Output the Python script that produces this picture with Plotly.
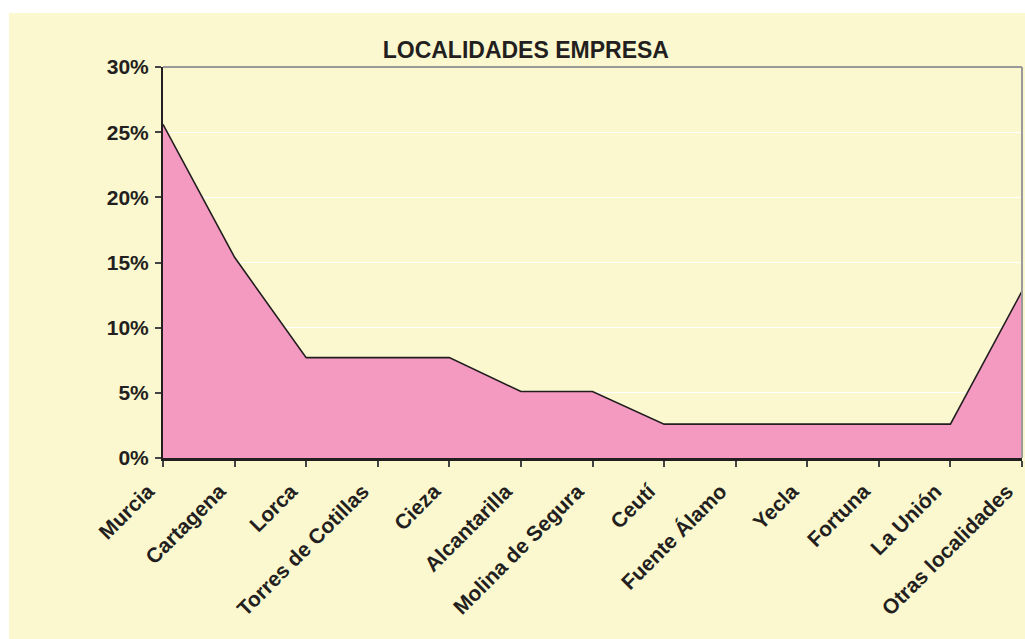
import plotly.graph_objects as go

# Localidades de la empresa (share of companies per town)
localidades = [
    "Murcia", "Cartagena", "Lorca", "Torres de Cotillas", "Cieza",
    "Alcantarilla", "Molina de Segura", "Ceutí", "Fuente Álamo", "Yecla",
    "Fortuna", "La Unión", "Otras localidades",
]
porcentajes = [0.256, 0.154, 0.077, 0.077, 0.077, 0.051, 0.051,
               0.026, 0.026, 0.026, 0.026, 0.026, 0.128]
y_ticks = [0, 0.05, 0.10, 0.15, 0.20, 0.25, 0.30]

PANEL = "#FBF8CF"
PINK = "#F49AC1"
DARK = "#231F20"
FONT = "Liberation Sans, Arial, sans-serif"

fig = go.Figure()
fig.add_trace(go.Scatter(
    x=list(range(len(localidades))),
    y=porcentajes,
    mode="lines",
    fill="tozeroy",
    fillcolor=PINK,
    line=dict(color=DARK, width=1.6),
    hoverinfo="skip",
    showlegend=False,
))

fig.update_layout(
    width=1025,
    height=639,
    margin=dict(l=163, r=3, t=67, b=181, autoexpand=False),
    paper_bgcolor="white",
    plot_bgcolor=PANEL,
    title=dict(
        text="LOCALIDADES EMPRESA",
        x=0.513, y=0.922, xref="container", yref="container",
        xanchor="center", yanchor="middle",
        font=dict(family=FONT, size=23, color=DARK, weight="bold"),
    ),
    font=dict(family=FONT, size=21, color=DARK, weight="bold"),
    xaxis=dict(
        range=[0, len(localidades) - 1],
        tickmode="array",
        tickvals=list(range(len(localidades))),
        ticktext=localidades,
        tickangle=-45,
        ticklabeloverflow="allow",
        ticklabelshift=-15,
        ticklabelstandoff=4,
        ticks="outside", ticklen=6, tickcolor="#444", tickwidth=1.5,
        showline=True, linecolor=DARK, linewidth=2.5,
        showgrid=False, zeroline=False,
        tickfont=dict(family=FONT, size=21, color=DARK, weight="bold"),
    ),
    yaxis=dict(
        range=[0, 0.30],
        tickvals=y_ticks,
        tickformat=".0%",
        ticklabelstandoff=2,
        ticks="outside", ticklen=6, tickcolor="#444", tickwidth=1.5,
        showline=True, linecolor=DARK, linewidth=2,
        showgrid=True, gridcolor="white", gridwidth=1,
        zeroline=False,
        tickfont=dict(family=FONT, size=21, color=DARK, weight="bold"),
    ),
    shapes=[
        # yellow chart panel behind everything
        dict(type="rect", xref="paper", yref="paper",
             x0=-0.1793, x1=1.01, y0=-0.47, y1=1.138,
             fillcolor=PANEL, line=dict(width=0), layer="below"),
        # grey plot-area border on top and right
        dict(type="line", xref="paper", yref="paper",
             x0=0, x1=1, y0=1, y1=1, line=dict(color="#999999", width=2)),
        dict(type="line", xref="paper", yref="paper",
             x0=1, x1=1, y0=0, y1=1, line=dict(color="#999999", width=2)),
    ],
)

fig.write_html(
    "out.html",
    config={"displayModeBar": False},
    post_script="document.body.style.margin='0';document.body.style.overflow='hidden';",
)
